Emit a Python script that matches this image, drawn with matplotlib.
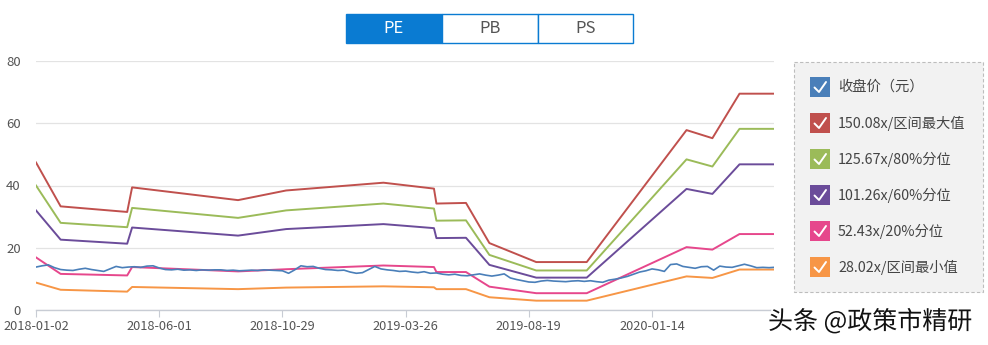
import matplotlib
matplotlib.use("Agg")
import matplotlib.pyplot as plt
from matplotlib.patches import Rectangle
import matplotlib.patheffects as pe

plt.rcParams['font.family'] = ['Noto Sans CJK SC', 'DejaVu Sans']

# ---------------- data ----------------
tick_labels = ['2018-01-02', '2018-06-01', '2018-10-29', '2019-03-26', '2019-08-19', '2020-01-14']
tick_days = [0, 100, 200, 300, 400, 500]
n_days = 600

# closing price, read every 5 trading days
close_days = list(range(0, 600, 5)) + [599]
close_price = [
    13.8, 14.2, 14.5, 13.6, 13.0, 12.8, 12.7, 13.1, 13.4, 13.0,
    12.7, 12.4, 13.2, 14.0, 13.6, 13.8, 13.9, 13.7, 14.1, 14.2,
    13.5, 13.0, 12.9, 13.1, 12.8, 12.9, 12.7, 12.9, 12.8, 12.9,
    12.9, 12.7, 12.8, 12.6, 12.7, 12.8, 12.7, 12.9, 12.8, 12.7,
    12.6, 11.8, 12.9, 14.2, 13.9, 14.0, 13.4, 13.0, 12.9, 12.7,
    12.8, 12.2, 11.8, 12.0, 13.0, 14.0, 13.2, 12.9, 12.7, 12.4,
    12.5, 12.2, 12.0, 12.3, 11.8, 11.9, 11.5, 11.3, 11.5, 11.1,
    11.0, 11.3, 11.6, 11.2, 10.9, 11.2, 11.6, 10.3, 9.8, 9.4,
    9.0, 8.9, 9.3, 9.5, 9.3, 9.2, 9.1, 9.3, 9.4, 9.2,
    9.4, 9.1, 8.9, 9.6, 9.9, 10.3, 10.8, 11.5, 12.2, 12.6,
    13.2, 12.9, 12.4, 14.6, 14.8, 14.0, 13.7, 13.4, 13.9, 14.0,
    12.8, 14.1, 13.8, 13.7, 14.2, 14.7, 14.2, 13.6, 13.7, 13.6,
    13.7,
]

# PE band break points (trading-day index)
band_days = [0, 20, 74, 78, 164, 203, 282, 323, 325, 349, 368, 406, 447, 528, 549, 571, 599]
band_max = [47.4, 33.3, 31.5, 39.4, 35.3, 38.4, 40.9, 39.0, 34.2, 34.4, 21.5, 15.4, 15.4, 57.8, 55.2, 69.5, 69.5]
band_80 = [40.0, 28.0, 26.6, 32.8, 29.6, 32.0, 34.2, 32.6, 28.7, 28.8, 17.7, 12.7, 12.7, 48.4, 46.1, 58.2, 58.2]
band_60 = [32.0, 22.6, 21.3, 26.5, 23.9, 26.0, 27.6, 26.3, 23.1, 23.2, 14.5, 10.4, 10.4, 38.9, 37.3, 46.8, 46.8]
band_20 = [16.9, 11.6, 11.1, 13.8, 12.4, 13.1, 14.3, 13.8, 12.2, 12.2, 7.5, 5.4, 5.4, 20.2, 19.4, 24.4, 24.4]
band_min = [8.8, 6.5, 5.9, 7.4, 6.7, 7.2, 7.6, 7.3, 6.7, 6.7, 4.1, 3.0, 3.0, 10.8, 10.3, 13.0, 13.0]

legend_labels = ['收盘价（元）', '150.08x/区间最大值', '125.67x/80%分位',
                 '101.26x/60%分位', '52.43x/20%分位', '28.02x/区间最小值']
colors = ['#4a7fb9', '#c0504d', '#9bbb59', '#6b4c9a', '#e6478c', '#f79646']
tabs = ['PE', 'PB', 'PS']

# ---------------- figure ----------------
W, H = 988, 345
fig = plt.figure(figsize=(W / 100, H / 100), dpi=100)
fig.patch.set_facecolor('white')

ax = fig.add_axes([36 / W, 1 - 310 / H, (774 - 36) / W, (310 - 61) / H])
ax.set_xlim(0, n_days - 1)
ax.set_ylim(0, 80)
ax.set_yticks([0, 20, 40, 60, 80])
ax.set_xticks(tick_days)
ax.set_xticklabels(tick_labels)
for s in ['top', 'right', 'left']:
    ax.spines[s].set_visible(False)
ax.spines['bottom'].set_color('#c8ccd4')
ax.spines['bottom'].set_linewidth(1.0)
ax.grid(axis='y', color='#e3e3e3', linewidth=0.9)
ax.set_axisbelow(True)
ax.tick_params(axis='y', length=0, pad=11, labelsize=9.5, labelcolor='#555555')
ax.tick_params(axis='x', length=5, width=0.8, color='#c8ccd4', pad=2,
               labelsize=9.2, labelcolor='#555555')

series = [band_max, band_80, band_60, band_20, band_min]
for vals, c in zip(series, colors[1:]):
    ax.plot(band_days, vals, color=c, linewidth=1.4, solid_joinstyle='round')
ax.plot(close_days, close_price, color=colors[0], linewidth=1.2, zorder=5)

# ---------------- overlay (pixel coords) ----------------
ov = fig.add_axes([0, 0, 1, 1], facecolor='none')
ov.set_xlim(0, W)
ov.set_ylim(H, 0)
ov.axis('off')

# tabs
tab_x = [346, 441.7, 537.7, 633]
for i, t in enumerate(tabs):
    x0, x1 = tab_x[i], tab_x[i + 1]
    active = i == 0
    ov.add_patch(Rectangle((x0, 13.5), x1 - x0, 29, facecolor='#0a7bd2' if active else 'white',
                           edgecolor='#0a7bd2', linewidth=1.0))
    ov.text((x0 + x1) / 2, 28.5, t, ha='center', va='center', fontsize=12,
            color='white' if active else '#555555')

# legend box
ov.add_patch(Rectangle((794, 62), 189, 230, facecolor='#f2f2f2', edgecolor='#bdbdbd',
                       linewidth=0.8, linestyle=(0, (3, 2))))
for i, (lab, c) in enumerate(zip(legend_labels, colors)):
    yc = 87 + 36 * i
    ov.add_patch(Rectangle((810, yc - 10), 20, 20, facecolor=c, edgecolor='none'))
    ov.plot([814.5, 819, 826], [yc + 0.5, yc + 5, yc - 5], color='white', linewidth=1.4,
            solid_capstyle='round', solid_joinstyle='round')
    ov.text(838, yc, lab, ha='left', va='center', fontsize=10.3, color='#444444')

# watermark
ov.text(768, 322, '头条 @政策市精研', ha='left', va='center', fontsize=18, color='#111111',
        path_effects=[pe.withStroke(linewidth=2.5, foreground='white')])

fig.savefig('out.png', dpi=100, facecolor='white')
